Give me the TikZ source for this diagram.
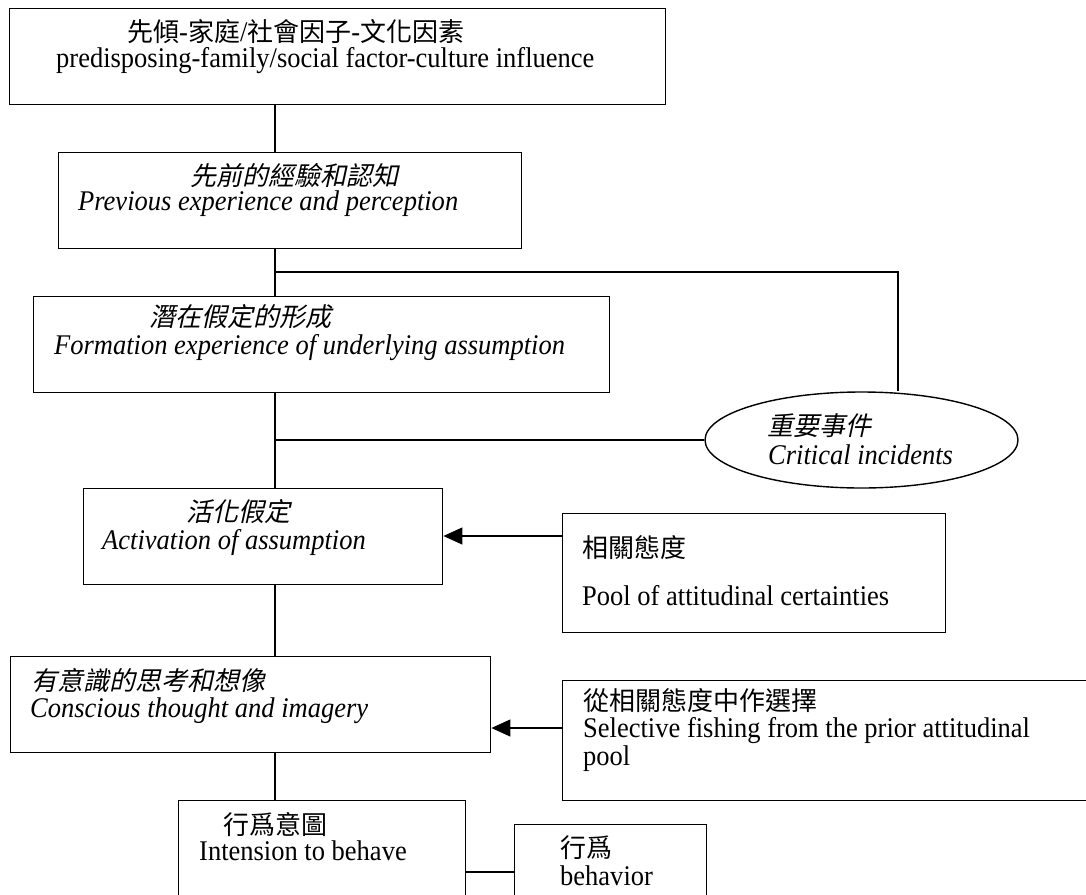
\documentclass[tikz,border=0pt]{standalone}
\usepackage{fontspec}
\setmainfont{Liberation Serif}[FakeStretch=0.93]
\newfontfamily\cjk{Noto Sans CJK TC}[FakeStretch=1.0]
\newfontfamily\cjkit{Noto Sans CJK TC}[FakeStretch=1.0,FakeSlant=0.22]
\newcommand\zhup[1]{{\cjk\fontsize{26}{30}\selectfont #1}}
\newcommand\zhit[1]{{\cjkit\fontsize{26}{30}\selectfont #1}}
\usetikzlibrary{shapes.geometric,arrows.meta}
\tikzset{
  boxnode/.style={draw, line width=1.4pt, rectangle, inner sep=0pt, anchor=north west},
  txt/.style={anchor=base west, inner sep=0pt, font=\fontsize{28.5}{32}\selectfont},
  link/.style={line width=1.3pt},
  arr/.style={line width=1.3pt, -{Triangle[length=19pt,width=17pt]}}
}
\begin{document}
\begin{tikzpicture}[x=1pt,y=-1pt]
\useasboundingbox (0,0) rectangle (1086,894);
% boxes
\node[boxnode, minimum width=656pt, minimum height=96pt] (b1) at (9,8) {};
\node[boxnode, minimum width=463pt, minimum height=96pt] (b2) at (58,152) {};
\node[boxnode, minimum width=576pt, minimum height=96pt] (b3) at (33,296) {};
\node[draw, line width=1.4pt, ellipse, inner sep=0pt, minimum width=313pt, minimum height=96pt] (ell) at (861.5,440) {};
\node[boxnode, minimum width=359pt, minimum height=96pt] (b4) at (83,488) {};
\node[boxnode, minimum width=383pt, minimum height=119pt] (b5) at (562,513) {};
\node[boxnode, minimum width=480pt, minimum height=96pt] (b6) at (10,656) {};
\node[boxnode, minimum width=560pt, minimum height=120pt] (b7) at (562,680) {};
\node[boxnode, minimum width=287pt, minimum height=120pt] (b8) at (178,800) {};
\node[boxnode, minimum width=192pt, minimum height=100pt] (b9) at (514,824) {};
% texts
\node[txt] (t1a) at (127,41) {\zhup{先傾}-\zhup{家庭}/\zhup{社會因子}-\zhup{文化因素}};
\node[txt] (t1b) at (56,67) {predisposing-family/social factor-culture influence};
\node[txt] (t2a) at (190,185) {\zhit{先前的經驗和認知}};
\node[txt] (t2b) at (78,210) {\itshape Previous experience and perception};
\node[txt] (t3a) at (149,326) {\zhit{潛在假定的形成}};
\node[txt] (t3b) at (54,354) {\itshape Formation experience of underlying assumption};
\node[txt] (tea) at (767,435) {\zhit{重要事件}};
\node[txt] (teb) at (768,464) {\itshape Critical incidents};
\node[txt] (t4a) at (186,521) {\zhit{活化假定}};
\node[txt] (t4b) at (102,549) {\itshape Activation of assumption};
\node[txt] (t5a) at (582,557) {\zhup{相關態度}};
\node[txt] (t5b) at (582,605) {Pool of attitudinal certainties};
\node[txt] (t6a) at (31,690) {\zhit{有意識的思考和想像}};
\node[txt] (t6b) at (30,717) {\itshape Conscious thought and imagery};
\node[txt] (t7a) at (583,710) {\zhup{從相關態度中作選擇}};
\node[txt] (t7b) at (583,737) {Selective fishing from the prior attitudinal};
\node[txt] (t7c) at (583,765) {pool};
\node[txt] (t8a) at (223,834) {\zhup{行爲意圖}};
\node[txt] (t8b) at (199,860) {Intension to behave};
\node[txt] (t9a) at (560,857) {\zhup{行爲}};
\node[txt] (t9b) at (560,885) {behavior};
% connectors
\coordinate (spine) at (275,0);
\coordinate (j1) at (275,272);
\coordinate (j1e) at (898,272);
\coordinate (j2) at (275,440);
\coordinate (a1) at (0,536);
\coordinate (a2) at (0,728);
\coordinate (c89) at (0,872);
\draw[link] (b1.south -| spine) -- (b2.north -| spine);
\draw[link] (b2.south -| spine) -- (b3.north -| spine);
\draw[link] (j1) -- (j1e) -- (j1e |- ell.north);
\draw[link] (b3.south -| spine) -- (b4.north -| spine);
\draw[link] (j2) -- (ell.west);
\draw[link] (b4.south -| spine) -- (b6.north -| spine);
\draw[link] (b6.south -| spine) -- (b8.north -| spine);
\draw[arr] (b5.west |- a1) -- (b4.east |- a1);
\draw[arr] (b7.west |- a2) -- (b6.east |- a2);
\draw[link] (b8.east |- c89) -- (b9.west |- c89);
\end{tikzpicture}
\end{document}
